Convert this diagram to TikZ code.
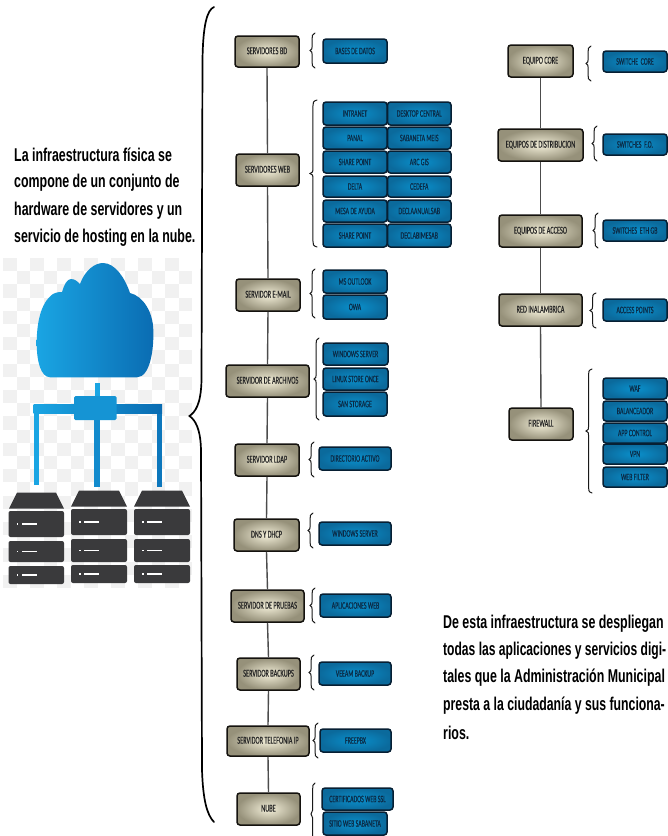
\documentclass[tikz,border=0pt]{standalone}
\usepackage{fontspec}
\setmainfont{Liberation Sans}
\newfontfamily\boxfont[FakeStretch=0.59,FakeBold=0.35]{Carlito}
\newfontfamily\capfont[FakeStretch=0.67]{Liberation Sans}
\usetikzlibrary{calc}
\definecolor{beigeIn}{HTML}{F3EFD9}
\definecolor{beigeOut}{HTML}{96917A}
\definecolor{blueIn}{HTML}{0A90CC}
\definecolor{blueOut}{HTML}{0B6A9C}
\definecolor{rim}{HTML}{14120E}
\definecolor{blueRim}{HTML}{071F33}
\definecolor{inkB}{HTML}{0B2A45}
\definecolor{skyL}{HTML}{1AA5E3}
\definecolor{skyR}{HTML}{0A6CB2}
\definecolor{srv}{HTML}{3A3A3C}
\definecolor{chk}{HTML}{F1F1F1}
\tikzset{
  x=1pt,y=1pt,
  beigebox/.style={draw=rim,line width=1.5pt,rounded corners=3pt,inner sep=0pt,
    inner color=beigeIn,outer color=beigeOut,text=black!85,font=\boxfont\fontsize{10.6}{11}\selectfont,align=center},
  bluebox/.style={draw=blueRim,line width=1.5pt,rounded corners=3pt,inner sep=0pt,
    inner color=blueIn,outer color=blueOut,text=inkB,font=\boxfont\fontsize{10}{11}\selectfont,align=center},
  bracecurve/.style={draw=black!90,line width=1pt,line cap=round,line join=miter},
  linkline/.style={draw=black!70,line width=1.4pt},
  captext/.style={anchor=west,inner sep=0pt,font=\capfont\bfseries\fontsize{18.5}{19}\selectfont,text=black},
}
% name, x0, y0, x1, y1 (image pixels), text
\newcommand{\tanbox}[6]{\node[beigebox,minimum width={#4-#2},minimum height={#5-#3}] (#1) at ({(#2+#4)/2},{-(#3+#5)/2}) {\raisebox{1.5pt}{#6}};}
\newcommand{\bluebx}[6]{\node[bluebox,minimum width={#4-#2},minimum height={#5-#3}] (#1) at ({(#2+#4)/2},{-(#3+#5)/2}) {#6};}
% xtip, xend, y0, y1
\newcommand{\curly}[4]{\pgfmathsetmacro{\xs}{#1+(#2-#1)*0.42}\pgfmathsetmacro{\ym}{(#3+#4)/2}
  \draw[bracecurve] (#2,-#3) .. controls (\xs,-#3-1) and (\xs,-#3-3) .. (\xs,-#3-6) -- (\xs,-\ym+4) .. controls (\xs,-\ym+1.5) .. (#1,-\ym) .. controls (\xs,-\ym-1.5) .. (\xs,-\ym-4) -- (\xs,-#4+6) .. controls (\xs,-#4+3) and (\xs,-#4+1) .. (#2,-#4);}
\newcommand{\srvunit}[4]{\fill[srv,rounded corners=2pt] (#1,-#3) rectangle (#2,-#4);
  \fill[white] (#1+8,-{(#3+#4)/2-.8}) rectangle (#1+9.5,-{(#3+#4)/2+.8});
  \fill[white] (#1+13,-{(#3+#4)/2-.7}) rectangle (#1+28,-{(#3+#4)/2+.7});}
\newcommand{\srvtop}[3]{\fill[srv] (#1+8,-#3) -- (#2-8,-#3) -- (#2,-#3-16) -- (#1,-#3-16) -- cycle;}
\begin{document}
\begin{tikzpicture}
\useasboundingbox (0,0) rectangle (668,-836);
\fill[white] (0,0) rectangle (668,-836);

% checker background behind the cloud picture
\foreach \i in {0,...,13}{\foreach \j in {0,...,24}{
  \pgfmathparse{int(mod(\i+\j,2))}
  \ifnum\pgfmathresult=0
    \fill[chk] ({3+\i*13.5},{-258-\j*13.2}) rectangle ({3+\i*13.5+13.5},{-258-\j*13.2-13.2});
  \fi}}

% cloud
\shade[left color=skyL,right color=skyR]
  (50,-377.3) .. controls (41,-377) and (36.7,-362) .. (36.7,-343)
  .. controls (36.7,-325) and (40,-303) .. (53,-294)
  .. controls (57,-292) and (60,-292) .. (62,-292)
  .. controls (64,-285) and (67,-279) .. (71,-279)
  .. controls (75,-279) and (78,-282) .. (80,-284)
  .. controls (85,-270) and (95,-263) .. (103,-263)
  .. controls (115,-263) and (125,-278) .. (130,-293)
  .. controls (143,-296) and (153,-312) .. (153.3,-330)
  .. controls (154,-350) and (150,-377) .. (137,-377.3) -- cycle;

% network
\fill[skyL] (94.5,-383) rectangle (99.5,-400);
\fill[skyL] (33.5,-404) rectangle (38.5,-485);
\fill[skyL!55!skyR] (94,-410) rectangle (99.5,-487);
\fill[skyR!80!skyL] (156.5,-404) rectangle (162,-487);
\shade[left color=skyL,right color=skyR] (33.5,-404) rectangle (162,-413.5);
\fill[skyL!70!skyR,rounded corners=1.5pt] (74,-396) rectangle (116.7,-420);

% servers
\srvtop{9}{64}{492.5}
\srvunit{8.5}{64}{511}{537}
\srvunit{8.5}{64}{541}{562}
\srvunit{8.5}{64}{566}{584}
\srvtop{71}{127}{490.5}
\srvunit{71}{127}{509}{535}
\srvunit{71}{127}{539}{562}
\srvunit{71}{127}{565}{583}
\srvtop{134}{190}{490.5}
\srvunit{134}{190}{509}{535}
\srvunit{134}{190}{539}{562}
\srvunit{134}{190}{565}{583}

% left caption
\node[captext] (t1) at (14,-155) {La infraestructura física se};
\node[captext] (t2) at (14,-183) {compone de un conjunto de};
\node[captext] (t3) at (14,-211) {hardware de servidores y un};
\node[captext] (t4) at (14,-238) {servicio de hosting en la nube.};

% big brace
\draw[draw=black,line width=1.7pt,line cap=round]
  (214,-7) .. controls (207,-10) and (203,-25) .. (202.5,-60)
  -- (201.5,-380) .. controls (201,-405) and (195,-412) .. (189.5,-416)
  .. controls (195,-420) and (200.5,-428) .. (201,-450)
  -- (202,-770) .. controls (203,-800) and (207,-815) .. (214,-822);

% left column: main boxes
\tanbox{bd}{235}{36}{299}{67}{SERVIDORES BD}
\tanbox{web}{236}{154}{299}{186}{SERVIDORES WEB}
\tanbox{mail}{236}{279}{300}{311}{SERVIDOR E-MAIL}
\tanbox{arch}{226}{365}{309}{397}{SERVIDOR DE ARCHIVOS}
\tanbox{ldap}{235}{444}{299}{476}{SERVIDOR LDAP}
\tanbox{dns}{234}{519}{299}{551}{DNS Y DHCP}
\tanbox{prue}{231}{590}{304}{622}{SERVIDOR DE PRUEBAS}
\tanbox{back}{237}{658}{300}{690}{SERVIDOR BACKUPS}
\tanbox{tele}{227}{726}{309}{756}{SERVIDOR TELEFONIA IP}
\tanbox{nube}{237}{793}{300}{825}{NUBE}
\foreach \a/\b in {bd/web,web/mail,mail/arch,arch/ldap,ldap/dns,dns/prue,prue/back,back/tele,tele/nube}
  \draw[linkline] (\a.south) -- (\b.north);

% left column: detail boxes
\bluebx{bases}{323}{39}{387}{63}{BASES DE DATOS}
\bluebx{w1}{323}{102}{387}{125}{INTRANET}
\bluebx{w2}{323}{127}{387}{149}{PANAL}
\bluebx{w3}{323}{151}{387}{173}{SHARE POINT}
\bluebx{w4}{323}{176}{387}{197}{DELTA}
\bluebx{w5}{323}{200}{387}{222}{MESA DE AYUDA}
\bluebx{w6}{323}{224}{387}{247}{SHARE POINT}
\bluebx{v1}{387.5}{102}{451}{125}{DESKTOP CENTRAL}
\bluebx{v2}{387.5}{127}{451}{149}{SABANETA MEIS}
\bluebx{v3}{387.5}{151}{451}{173}{ARC GIS}
\bluebx{v4}{387.5}{176}{451}{197}{CEDEFA}
\bluebx{v5}{387.5}{200}{451}{222}{DECLAANUALSAB}
\bluebx{v6}{387.5}{224}{451}{247}{DECLABIMESAB}
\bluebx{m1}{323}{270}{387}{293}{MS OUTLOOK}
\bluebx{m2}{323}{295}{387}{319}{OWA}
\bluebx{a1}{323}{343}{388}{365}{WINDOWS SERVER}
\bluebx{a2}{323}{368}{388}{390}{LINUX STORE ONCE}
\bluebx{a3}{323}{392}{387}{416}{SAN STORAGE}
\bluebx{dir}{319}{447}{391}{470}{DIRECTORIO ACTIVO}
\bluebx{win}{319}{522}{391}{545}{WINDOWS SERVER}
\bluebx{apl}{320}{594}{391}{617}{APLICACIONES WEB}
\bluebx{vee}{319}{662}{391}{685}{VEEAM BACKUP}
\bluebx{fre}{320}{729}{391}{752}{FREEPBX}
\bluebx{sit}{323}{812}{387}{835}{SITIO WEB SABANETA}
\bluebx{cer}{322}{788}{393}{810}{CERTIFICADOS WEB SSL}

% left braces
\curly{310}{315}{33}{68}
\curly{310}{317}{100}{247}
\curly{310}{315}{269}{318}
\curly{314}{319}{338}{420}
\curly{309}{314}{442}{477}
\curly{308}{313}{513}{548}
\curly{310}{315}{588}{623}
\curly{309}{314}{655}{690}
\curly{313}{318}{723}{758}
\curly{311}{315}{783}{845}

% right column: main boxes
\tanbox{core}{508}{45}{573}{77}{EQUIPO CORE}
\tanbox{dist}{498}{129}{583}{161}{EQUIPOS DE DISTRIBUCION}
\tanbox{acc}{499}{215}{582}{247}{EQUIPOS DE ACCESO}
\tanbox{red}{499}{294}{582}{326}{RED INALAMBRICA}
\tanbox{fire}{509}{408}{573}{440}{FIREWALL}
\foreach \a/\b in {core/dist,dist/acc,acc/red,red/fire}
  \draw[linkline] (\a.south) -- (\b.north);

% right column: detail boxes
\bluebx{s1}{603}{51}{667}{72}{SWITCHE\ \ CORE}
\bluebx{s2}{603}{134}{667}{155}{SWITCHES\ \ F.O.}
\bluebx{s3}{603}{220}{667}{241}{SWITCHES\ \ ETH GB}
\bluebx{s4}{603}{299}{667}{321}{ACCESS POINTS}
\bluebx{f1}{603}{378}{667}{399}{WAF}
\bluebx{f2}{603}{401}{667}{421}{BALANCEADOR}
\bluebx{f3}{603}{423}{667}{443}{APP CONTROL}
\bluebx{f4}{603}{444}{667}{464}{VPN}
\bluebx{f5}{603}{467}{667}{487}{WEB FILTER}

% right braces
\curly{586}{591}{46}{81}
\curly{592}{597}{126}{161}
\curly{593}{598}{213}{248}
\curly{590}{596}{293}{328}
\curly{586}{592}{369}{493}

% bottom caption
\node[captext] (b1) at (443,-624) {De esta infraestructura se despliegan};
\node[captext] (b2) at (443,-651) {\scalebox{.975}[1]{todas las aplicaciones y servicios digi-}};
\node[captext] (b3) at (443,-678) {tales que la Administración Municipal};
\node[captext] (b4) at (443,-706) {\scalebox{.99}[1]{presta a la ciudadanía y sus funciona-}};
\node[captext] (b5) at (443,-733) {rios.};
\end{tikzpicture}
\end{document}
